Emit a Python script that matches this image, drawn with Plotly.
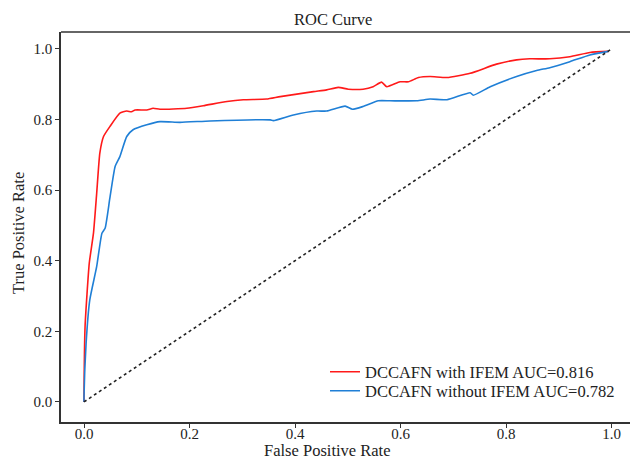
import plotly.graph_objects as go

# Red: DCCAFN with IFEM
fpr_with = [0.0, 0.0, 0.002, 0.010, 0.018, 0.024, 0.030, 0.037, 0.049, 0.068, 0.081, 0.090, 0.097,
            0.119, 0.131, 0.144, 0.195, 0.226, 0.271, 0.302, 0.346, 0.372, 0.435, 0.460, 0.482,
            0.501, 0.529, 0.548, 0.564, 0.574, 0.599, 0.615, 0.634, 0.656, 0.688, 0.732, 0.782,
            0.820, 0.845, 0.883, 0.921, 0.959, 0.994]
tpr_with = [0.0, 0.015, 0.213, 0.393, 0.479, 0.590, 0.705, 0.752, 0.780, 0.818, 0.824, 0.822, 0.827,
            0.827, 0.832, 0.829, 0.832, 0.839, 0.851, 0.856, 0.858, 0.865, 0.879, 0.884, 0.891,
            0.886, 0.886, 0.893, 0.906, 0.893, 0.907, 0.907, 0.919, 0.922, 0.919, 0.931, 0.957,
            0.969, 0.972, 0.972, 0.978, 0.990, 0.993]

# Blue: DCCAFN without IFEM
fpr_without = [0.0, 0.0, 0.004, 0.011, 0.024, 0.034, 0.040, 0.049, 0.059, 0.068, 0.081, 0.093,
               0.119, 0.144, 0.182, 0.239, 0.353, 0.359, 0.397, 0.441, 0.460, 0.495, 0.509,
               0.529, 0.558, 0.580, 0.631, 0.656, 0.688, 0.732, 0.738, 0.770, 0.820, 0.858,
               0.883, 0.921, 0.959, 0.994]
tpr_without = [0.0, 0.015, 0.166, 0.289, 0.383, 0.478, 0.492, 0.577, 0.667, 0.695, 0.752, 0.771,
               0.785, 0.794, 0.792, 0.796, 0.799, 0.797, 0.813, 0.824, 0.824, 0.838, 0.829,
               0.837, 0.853, 0.853, 0.853, 0.858, 0.856, 0.876, 0.869, 0.893, 0.922, 0.939,
               0.947, 0.964, 0.983, 0.993]

diag = [0.0, 1.0]
ticks = [0.0, 0.2, 0.4, 0.6, 0.8, 1.0]
tick_text = ["0.0", "0.2", "0.4", "0.6", "0.8", "1.0"]

title_text = "ROC Curve"
x_title = "False Positive Rate"
y_title = "True Positive Rate"

FONT = "Liberation Serif"
INK = "#222222"

fig = go.Figure()
fig.add_trace(go.Scatter(x=fpr_with, y=tpr_with, mode="lines",
                         line=dict(color="#ff1a1a", width=1.6, shape="spline", smoothing=0.5),
                         name="DCCAFN with IFEM AUC=0.816", legend="legend"))
fig.add_trace(go.Scatter(x=fpr_without, y=tpr_without, mode="lines",
                         line=dict(color="#1f7fd6", width=1.6, shape="spline", smoothing=0.5),
                         name="DCCAFN without IFEM AUC=0.782", legend="legend2"))
fig.add_trace(go.Scatter(x=diag, y=diag, mode="lines",
                         line=dict(color=INK, width=1.6, dash="dot"),
                         showlegend=False))

# plot area in page pixels: x 61..630, y 32..422
PW, PH = 569.0, 390.0
def px(xp):
    return (xp - 61) / PW
def py(yp):
    return (422 - yp) / PH

leg_common = dict(xanchor="left", yanchor="middle", bgcolor="rgba(0,0,0,0)",
                  font=dict(family=FONT, size=16.5, color=INK))

axis_common = dict(showline=True, linecolor="#333333", linewidth=1.5, ticks="outside",
                   ticklen=4, tickwidth=1.2, tickcolor="#333333", showgrid=False,
                   zeroline=False, automargin=False, tickvals=ticks, ticktext=tick_text,
                   tickfont=dict(family=FONT, size=15, color=INK))

fig.update_layout(
    width=630, height=457,
    margin=dict(l=61, r=0, t=32, b=35),
    paper_bgcolor="white", plot_bgcolor="white",
    font=dict(family=FONT, size=16, color=INK),
    xaxis=dict(range=[-0.0436, 1.035], ticklabelstandoff=-7, **axis_common),
    yaxis=dict(range=[-0.057, 1.048], **axis_common),
    legend=dict(x=px(325), y=py(372), **leg_common),
    legend2=dict(x=px(325), y=py(391), **leg_common),
    shapes=[dict(type="line", xref="paper", yref="paper", x0=0, x1=1, y0=1, y1=1,
                 line=dict(color="#333333", width=1.5))],
    annotations=[
        dict(text=title_text, xref="paper", yref="paper", x=px(332.5), y=py(19.5),
             xanchor="center", yanchor="middle", showarrow=False,
             font=dict(family=FONT, size=16.5, color=INK)),
        dict(text=x_title, xref="paper", yref="paper", x=px(327.5), y=py(450),
             xanchor="center", yanchor="middle", showarrow=False,
             font=dict(family=FONT, size=16.5, color=INK)),
        dict(text=y_title, xref="paper", yref="paper", x=px(19), y=py(233),
             xanchor="center", yanchor="middle", showarrow=False, textangle=-90,
             font=dict(family=FONT, size=16.5, color=INK)),
    ],
)

fig.write_html("out.html", config={"displayModeBar": False},
               post_script="document.body.style.margin='0px';")
